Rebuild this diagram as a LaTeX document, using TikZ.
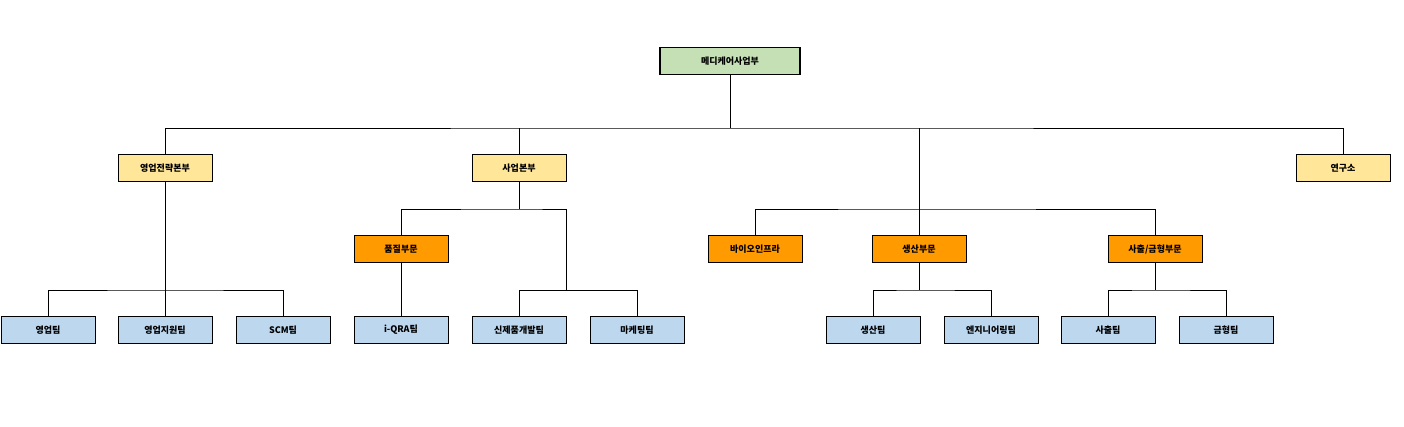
\documentclass[tikz,border=0pt]{standalone}
\usepackage{fontspec}
\setmainfont{Noto Sans CJK KR}
\usetikzlibrary{positioning}
\definecolor{headgreen}{HTML}{C5E0B4}
\definecolor{divyellow}{HTML}{FFE699}
\definecolor{secorange}{HTML}{FF9A00}
\definecolor{teamblue}{HTML}{BDD7EE}
\tikzset{
  box/.style={draw=black, minimum width=94pt, minimum height=27pt, inner sep=0pt, font=\fontsize{9}{10}\selectfont\bfseries},
  headbox/.style={box, fill=headgreen, line width=1.5pt, minimum width=140pt},
  divbox/.style={box, fill=divyellow},
  secbox/.style={box, fill=secorange},
  teambox/.style={box, fill=teamblue},
  link/.style={draw=black, line width=0.6pt}
}
\begin{document}
\begin{tikzpicture}[x=1pt,y=-1pt]
				\useasboundingbox (0,0) rectangle (1404,427);
				% Top
				\node[headbox] (head) at (730,61) {메디케어사업부};
				% Divisions
				\node[divbox] (sales) at (165,168) {영업전략본부};
				\node[divbox] (biz) at (519,168) {사업본부};
				\node[divbox] (lab) at (1343,168) {연구소};
				\coordinate (prod) at (919,209);
				% Sections
				\node[secbox] (quality) at (401,249) {품질부문};
				\node[secbox] (bio) at (755,249) {바이오인프라};
				\node[secbox] (make) at (919,249) {생산부문};
				\node[secbox] (mold) at (1155,249) {사출/금형부문};
				% Teams
				\node[teambox] (t1) at (48,330) {영업팀};
				\node[teambox] (t2) at (165,330) {영업지원팀};
				\node[teambox] (t3) at (283,330) {SCM팀};
				\node[teambox] (t4) at (401,330) {i-QRA팀};
				\node[teambox] (t5) at (519,330) {신제품개발팀};
				\node[teambox] (t6) at (637,330) {마케팅팀};
				\node[teambox] (t7) at (873,330) {생산팀};
				\node[teambox] (t8) at (991,330) {엔지니어링팀};
				\node[teambox] (t9) at (1108,330) {사출팀};
				\node[teambox] (t10) at (1226,330) {금형팀};
				% Connectors
				\coordinate (hbus) at (730,128);
				\draw[link] (head.south) -- (hbus);
				\draw[link] (sales.north) |- (hbus) -| (lab.north);
				\draw[link] (biz.north) -- (biz.north |- hbus);
				\draw[link] (prod) -- (prod |- hbus);
				\draw[link] (bio.north) |- (prod) -| (mold.north);
				\draw[link] (make.north) -- (prod);
				\draw[link] (sales.south) -- (165,290);
				\draw[link] (t1.north) |- (165,290) -| (t3.north);
				\draw[link] (t2.north) -- (165,290);
				\draw[link] (biz.south) -- (519,209);
				\draw[link] (quality.north) |- (519,209) -| (566,290);
				\draw[link] (t5.north) |- (566,290);
				\draw[link] (t6.north) |- (566,290);
				\draw[link] (quality.south) -- (t4.north);
				\draw[link] (make.south) -- (919,290);
				\draw[link] (t7.north) |- (919,290) -| (t8.north);
				\draw[link] (mold.south) -- (1155,290);
				\draw[link] (t9.north) |- (1155,290) -| (t10.north);
\end{tikzpicture}
\end{document}
